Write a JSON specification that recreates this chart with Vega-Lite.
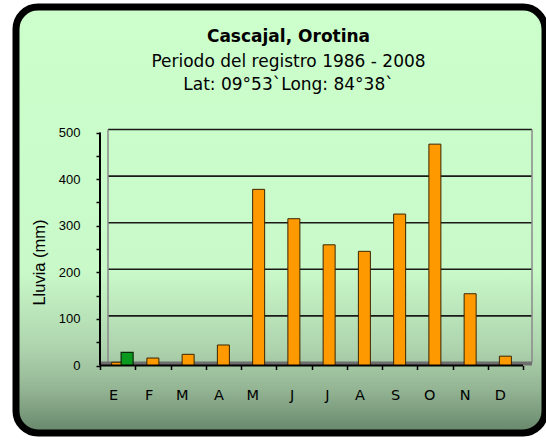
{
  "$schema": "https://vega.github.io/schema/vega-lite/v6.json",
  "width": 529,
  "height": 426,
  "autosize": {"type": "none"},
  "padding": {"left": 16, "top": 7, "right": 1, "bottom": 7},
  "background": "white",
  "config": {"view": {"stroke": null}, "font": "DejaVu Sans"},
  "title": {
    "text": "Cascajal, Orotina",
    "subtitle": ["Periodo del registro  1986 - 2008", "Lat: 09°53`Long: 84°38`"],
    "anchor": "middle",
    "frame": "group",
    "offset": -90,
    "dx": 8,
    "font": "DejaVu Sans",
    "fontSize": 17,
    "fontWeight": "bold",
    "color": "black",
    "subtitleFont": "DejaVu Sans",
    "subtitleFontSize": 17,
    "subtitleColor": "black",
    "subtitlePadding": 8,
    "subtitleLineHeight": 22.5
  },
  "datasets": {
    "lluvia": [
      {"mes": "Ene", "mm": 7, "serie": "Lluvia"},
      {"mes": "Feb", "mm": 16, "serie": "Lluvia"},
      {"mes": "Mar", "mm": 24, "serie": "Lluvia"},
      {"mes": "Abr", "mm": 44, "serie": "Lluvia"},
      {"mes": "May", "mm": 378, "serie": "Lluvia"},
      {"mes": "Jun", "mm": 315, "serie": "Lluvia"},
      {"mes": "Jul", "mm": 259, "serie": "Lluvia"},
      {"mes": "Ago", "mm": 245, "serie": "Lluvia"},
      {"mes": "Set", "mm": 325, "serie": "Lluvia"},
      {"mes": "Oct", "mm": 475, "serie": "Lluvia"},
      {"mes": "Nov", "mm": 154, "serie": "Lluvia"},
      {"mes": "Dic", "mm": 20, "serie": "Lluvia"},
      {"mes": "Ene", "mm": 28, "serie": "Otro"}
    ],
    "grid": [{"v": 100}, {"v": 200}, {"v": 300}, {"v": 400}, {"v": 500}]
  },
  "layer": [
    {
      "data": {"values": [{}]},
      "mark": {
        "type": "rect",
        "fill": {
          "gradient": "linear",
          "x1": 0, "y1": 0, "x2": 0, "y2": 1,
          "stops": [
            {"offset": 0, "color": "#ccffcc"},
            {"offset": 0.62, "color": "#c9f9c9"},
            {"offset": 0.8, "color": "#aed4ae"},
            {"offset": 0.9, "color": "#93b493"},
            {"offset": 1, "color": "#66866a"}
          ]
        },
        "stroke": "black",
        "strokeWidth": 7,
        "cornerRadius": 22
      },
      "encoding": {}
    },
    {
      "data": {"name": "grid"},
      "mark": {"type": "rule", "color": "#1a1a1a", "strokeWidth": 1.6, "xOffset": 8, "x2Offset": 9, "yOffset": -3},
      "encoding": {
        "y": {"field": "v", "type": "quantitative", "scale": {"domain": [0, 500], "range": [358.5, 125.5], "nice": false}},
        "x": {"datum": "Ene", "type": "nominal", "bandPosition": 0,
              "scale": {"type": "band", "domain": ["Ene","Feb","Mar","Abr","May","Jun","Jul","Ago","Set","Oct","Nov","Dic"], "range": [84, 507], "paddingInner": 0, "paddingOuter": 0}},
        "x2": {"datum": "Dic", "bandPosition": 1}
      }
    },
    {
      "data": {"values": [{}]},
      "mark": {"type": "rule", "color": "#8a8a8a", "strokeWidth": 1.5, "xOffset": 8, "yOffset": -3, "y2Offset": -3},
      "encoding": {
        "x": {"datum": "Ene", "type": "nominal", "bandPosition": 0},
        "y": {"datum": 0, "type": "quantitative"},
        "y2": {"datum": 500}
      }
    },
    {
      "data": {"values": [{}]},
      "mark": {"type": "rule", "color": "#8a8a8a", "strokeWidth": 1.5, "xOffset": 9, "yOffset": -3, "y2Offset": -3},
      "encoding": {
        "x": {"datum": "Dic", "type": "nominal", "bandPosition": 1},
        "y": {"datum": 0, "type": "quantitative"},
        "y2": {"datum": 500}
      }
    },
    {
      "data": {"values": [{}]},
      "mark": {"type": "rule", "color": "#6e6e6e", "strokeWidth": 4, "yOffset": -2, "x2Offset": 9},
      "encoding": {
        "x": {"datum": "Ene", "type": "nominal", "bandPosition": 0},
        "x2": {"datum": "Dic", "bandPosition": 1},
        "y": {"datum": 0, "type": "quantitative"}
      }
    },
    {
      "data": {"name": "lluvia"},
      "transform": [{"filter": "datum.serie === 'Lluvia'"}],
      "mark": {"type": "bar", "size": 12, "fill": "#ff9900", "stroke": "#3a2600", "strokeWidth": 1},
      "encoding": {
        "x": {"field": "mes", "type": "nominal",
              "axis": {"orient": "bottom", "offset": -67.5, "zindex": 2, "domain": false, "grid": false, "tickBand": "extent", "tickSize": 4, "tickColor": "black", "tickWidth": 1.5,
                       "labelExpr": "substring(datum.label, 0, 1)", "labelFont": "DejaVu Sans", "labelFontSize": 14.5, "labelPadding": 26, "labelAngle": 0, "labelColor": "black", "title": null}},
        "y": {"field": "mm", "type": "quantitative",
              "axis": {"orient": "left", "offset": -84, "zindex": 2, "domain": false, "grid": false,
                       "values": [0, 50, 100, 150, 200, 250, 300, 350, 400, 450, 500],
                       "labelExpr": "datum.value % 100 === 0 ? datum.label : ''",
                       "tickSize": 4, "tickColor": "black", "tickWidth": 1.5, "labelPadding": 16,
                       "labelFont": "Liberation Sans", "labelFontSize": 13, "labelColor": "black",
                       "title": "Lluvia (mm)", "titleFont": "Liberation Sans", "titleFontSize": 16.5, "titleFontWeight": "normal",
                       "titleColor": "black", "titleAngle": -90, "titleX": -56, "titleY": 255, "titleBaseline": "alphabetic", "titleAlign": "center"}},
        "y2": {"datum": 0}
      }
    },
    {
      "data": {"name": "lluvia"},
      "transform": [{"filter": "datum.serie === 'Otro'"}],
      "mark": {"type": "bar", "size": 12, "fill": "#0a9a1e", "stroke": "#0a2a0a", "strokeWidth": 1.2, "xOffset": 9.5},
      "encoding": {
        "x": {"field": "mes", "type": "nominal"},
        "y": {"field": "mm", "type": "quantitative"},
        "y2": {"datum": 0}
      }
    },
    {
      "data": {"values": [{}]},
      "mark": {"type": "rule", "color": "black", "strokeWidth": 2},
      "encoding": {
        "x": {"datum": "Ene", "type": "nominal", "bandPosition": 0},
        "x2": {"datum": "Dic", "bandPosition": 1},
        "y": {"datum": 0, "type": "quantitative"}
      }
    },
    {
      "data": {"values": [{}]},
      "mark": {"type": "rule", "color": "black", "strokeWidth": 2},
      "encoding": {
        "x": {"datum": "Ene", "type": "nominal", "bandPosition": 0},
        "y": {"datum": 0, "type": "quantitative"},
        "y2": {"datum": 500}
      }
    }
  ]
}
